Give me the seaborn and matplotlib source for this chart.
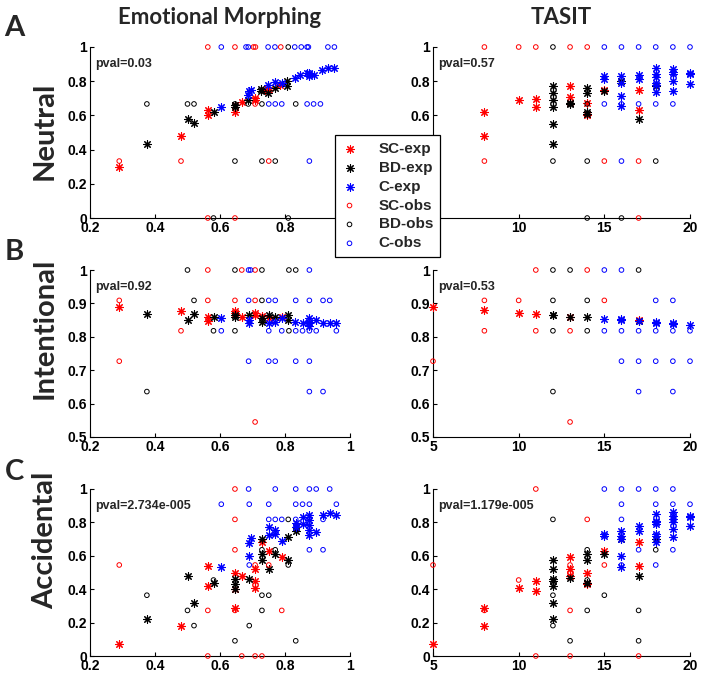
import matplotlib
matplotlib.use('Agg')
import matplotlib.pyplot as plt
import seaborn as sns

# ---- Emotional Morphing / Neutral ----
em_neu_sc_exp = [(0.29, 0.30), (0.48, 0.48), (0.5625, 0.63), (0.5625, 0.60), (0.646, 0.62), (0.646, 0.66),
                 (0.667, 0.68), (0.708, 0.70), (0.708, 0.69), (0.738, 0.75), (0.75, 0.75), (0.785, 0.78)]
em_neu_bd_exp = [(0.375, 0.43), (0.50, 0.58), (0.52, 0.555), (0.58, 0.62), (0.645, 0.66), (0.645, 0.65),
                 (0.685, 0.69), (0.725, 0.755), (0.725, 0.74), (0.748, 0.73), (0.77, 0.76), (0.805, 0.80),
                 (0.805, 0.77)]
em_neu_c_exp = [(0.604, 0.65), (0.687, 0.72), (0.69, 0.74), (0.695, 0.75), (0.748, 0.78), (0.77, 0.795),
                (0.79, 0.79), (0.83, 0.82), (0.845, 0.835), (0.867, 0.85), (0.875, 0.84), (0.875, 0.83),
                (0.875, 0.85), (0.89, 0.835), (0.915, 0.865), (0.932, 0.875), (0.952, 0.88)]
em_neu_sc_obs = [(0.5625, 1), (0.646, 1), (0.703, 1), (0.709, 1), (0.787, 1), (0.708, 0.667), (0.29, 0.333),
                 (0.48, 0.333), (0.75, 0.333), (0.5625, 0), (0.646, 0)]
em_neu_bd_obs = [(0.81, 1), (0.375, 0.667), (0.50, 0.667), (0.52, 0.667), (0.646, 0.667), (0.687, 0.667),
                 (0.729, 0.667), (0.833, 0.667), (0.646, 0.333), (0.729, 0.333), (0.77, 0.333), (0.58, 0),
                 (0.81, 0)]
em_neu_c_obs = [(0.604, 1), (0.68, 1), (0.687, 1), (0.748, 1), (0.769, 1), (0.83, 1), (0.85, 1), (0.868, 1),
                (0.872, 1), (0.932, 1), (0.952, 1), (0.75, 0.667), (0.77, 0.667), (0.79, 0.667),
                (0.868, 0.667), (0.888, 0.667), (0.909, 0.667), (0.875, 0.333)]

# ---- TASIT / Neutral ----
ta_neu_sc_exp = [(8, 0.62), (8, 0.48), (10, 0.69), (11, 0.695), (11, 0.65), (13, 0.77), (13, 0.71), (13, 0.67),
                 (14, 0.67), (14, 0.61), (14, 0.605), (15, 0.75), (17, 0.75), (17, 0.63)]
ta_neu_bd_exp = [(12, 0.77), (12, 0.73), (12, 0.69), (12, 0.65), (12, 0.55), (12, 0.43), (13, 0.665),
                 (13, 0.67), (14, 0.76), (14, 0.73), (14, 0.62), (14, 0.61), (15, 0.74), (16, 0.80),
                 (17, 0.58), (18, 0.77)]
ta_neu_c_exp = [(15, 0.83), (15, 0.815), (16, 0.83), (16, 0.79), (16, 0.715), (16, 0.655), (17, 0.835),
                (17, 0.81), (18, 0.88), (18, 0.845), (18, 0.825), (18, 0.79), (18, 0.775), (18, 0.735),
                (19, 0.87), (19, 0.855), (19, 0.84), (19, 0.80), (19, 0.74), (20, 0.85), (20, 0.84),
                (20, 0.785)]
ta_neu_sc_obs = [(8, 1), (10, 1), (11, 1), (13, 1), (14, 1), (8, 0.333), (15, 0.333), (17, 0.333), (17, 0)]
ta_neu_bd_obs = [(12, 1), (13, 0.667), (14, 0.667), (12, 0.333), (14, 0.333), (18, 0.333), (14, 0), (16, 0)]
ta_neu_c_obs = [(15, 1), (16, 1), (17, 1), (18, 1), (19, 1), (20, 1), (15, 0.667), (16, 0.667), (17, 0.667),
                (18, 0.667), (19, 0.667), (16, 0.333)]

# ---- Emotional Morphing / Intentional ----
em_int_sc_exp = [(0.29, 0.89), (0.48, 0.878), (0.5625, 0.86), (0.5625, 0.848), (0.646, 0.878), (0.646, 0.87),
                 (0.667, 0.86), (0.708, 0.872), (0.708, 0.866), (0.729, 0.862), (0.75, 0.855), (0.79, 0.858)]
em_int_bd_exp = [(0.375, 0.867), (0.50, 0.85), (0.52, 0.867), (0.58, 0.86), (0.646, 0.865), (0.646, 0.86),
                 (0.69, 0.865), (0.729, 0.855), (0.729, 0.845), (0.75, 0.865), (0.77, 0.86), (0.81, 0.865),
                 (0.81, 0.85)]
em_int_c_exp = [(0.604, 0.855), (0.69, 0.85), (0.69, 0.84), (0.75, 0.84), (0.77, 0.843), (0.79, 0.855),
                (0.83, 0.845), (0.854, 0.84), (0.875, 0.855), (0.875, 0.845), (0.875, 0.84), (0.875, 0.833),
                (0.896, 0.85), (0.917, 0.84), (0.9375, 0.84), (0.958, 0.84)]
em_int_sc_obs = [(0.5625, 1), (0.667, 1), (0.708, 1), (0.29, 0.909), (0.5625, 0.909), (0.646, 0.909),
                 (0.708, 0.909), (0.48, 0.818), (0.29, 0.727), (0.708, 0.545)]
em_int_bd_obs = [(0.50, 1), (0.646, 1), (0.729, 1), (0.812, 1), (0.833, 1), (0.52, 0.909), (0.729, 0.909),
                 (0.58, 0.818), (0.646, 0.818), (0.812, 0.818), (0.375, 0.636)]
em_int_c_obs = [(0.688, 1), (0.694, 1), (0.875, 1), (0.688, 0.909), (0.75, 0.909), (0.77, 0.909),
                (0.833, 0.909), (0.875, 0.909), (0.917, 0.909), (0.9375, 0.909), (0.604, 0.818),
                (0.75, 0.818), (0.79, 0.818), (0.833, 0.818), (0.854, 0.818), (0.875, 0.818), (0.896, 0.818),
                (0.958, 0.818), (0.688, 0.727), (0.75, 0.727), (0.77, 0.727), (0.833, 0.727), (0.875, 0.727),
                (0.875, 0.636), (0.917, 0.636)]

# ---- TASIT / Intentional ----
ta_int_sc_exp = [(5, 0.89), (8, 0.88), (10, 0.87), (11, 0.868), (13, 0.86), (17, 0.85)]
ta_int_bd_exp = [(12, 0.866), (12, 0.864), (13, 0.86), (14, 0.858), (17, 0.848)]
ta_int_c_exp = [(15, 0.853), (16, 0.852), (16, 0.849), (17, 0.847), (18, 0.845), (18, 0.841), (19, 0.84),
                (19, 0.838), (20, 0.836)]
ta_int_sc_obs = [(11, 1), (14, 1), (8, 0.909), (10, 0.909), (15, 0.909), (8, 0.818), (11, 0.818), (13, 0.818),
                 (5, 0.727), (13, 0.545)]
ta_int_bd_obs = [(12, 1), (13, 1), (17, 1), (12, 0.909), (14, 0.909), (12, 0.818), (14, 0.818), (12, 0.636)]
ta_int_c_obs = [(15, 1), (16, 1), (18, 0.909), (19, 0.909), (15, 0.818), (16, 0.818), (17, 0.818), (18, 0.818),
                (19, 0.818), (20, 0.818), (16, 0.727), (17, 0.727), (18, 0.727), (19, 0.727), (20, 0.727),
                (17, 0.636), (19, 0.636)]

# ---- Emotional Morphing / Accidental ----
em_acc_sc_exp = [(0.29, 0.07), (0.48, 0.18), (0.5625, 0.54), (0.5625, 0.42), (0.646, 0.50), (0.646, 0.40),
                 (0.646, 0.29), (0.667, 0.48), (0.708, 0.52), (0.708, 0.45), (0.708, 0.41), (0.729, 0.68),
                 (0.75, 0.63), (0.79, 0.59)]
em_acc_bd_exp = [(0.375, 0.22), (0.50, 0.48), (0.52, 0.32), (0.58, 0.44), (0.646, 0.46), (0.646, 0.43),
                 (0.646, 0.40), (0.69, 0.46), (0.729, 0.70), (0.729, 0.61), (0.729, 0.575), (0.75, 0.52),
                 (0.77, 0.61), (0.81, 0.71), (0.81, 0.575), (0.833, 0.75), (0.833, 0.77)]
em_acc_c_exp = [(0.604, 0.53), (0.688, 0.60), (0.69, 0.675), (0.694, 0.705), (0.75, 0.725), (0.75, 0.775),
                (0.77, 0.755), (0.77, 0.73), (0.79, 0.69), (0.833, 0.795), (0.833, 0.775), (0.854, 0.79),
                (0.854, 0.83), (0.875, 0.845), (0.875, 0.815), (0.875, 0.785), (0.875, 0.755), (0.875, 0.725),
                (0.896, 0.74), (0.917, 0.845), (0.9375, 0.855), (0.958, 0.845)]
em_acc_sc_obs = [(0.646, 1), (0.646, 0.818), (0.646, 0.636), (0.29, 0.545), (0.708, 0.545), (0.75, 0.545),
                 (0.5625, 0.273), (0.646, 0.273), (0.79, 0.273), (0.5625, 0), (0.667, 0), (0.708, 0),
                 (0.729, 0)]
em_acc_bd_obs = [(0.81, 0.818), (0.729, 0.636), (0.77, 0.636), (0.81, 0.545), (0.58, 0.455), (0.375, 0.364),
                 (0.729, 0.364), (0.75, 0.364), (0.50, 0.273), (0.729, 0.273), (0.52, 0.182), (0.69, 0.182),
                 (0.646, 0.091), (0.833, 0.091)]
em_acc_c_obs = [(0.688, 1), (0.77, 1), (0.833, 1), (0.875, 1), (0.896, 1), (0.9375, 1), (0.604, 0.909),
                (0.69, 0.909), (0.75, 0.909), (0.833, 0.909), (0.854, 0.909), (0.875, 0.909), (0.958, 0.909),
                (0.75, 0.818), (0.77, 0.818), (0.79, 0.818), (0.833, 0.818), (0.875, 0.818), (0.917, 0.818),
                (0.875, 0.636), (0.917, 0.636), (0.69, 0.545)]

# ---- TASIT / Accidental ----
ta_acc_sc_exp = [(5, 0.07), (8, 0.29), (8, 0.18), (10, 0.41), (11, 0.45), (11, 0.39), (13, 0.59), (13, 0.52),
                 (13, 0.48), (14, 0.50), (14, 0.44), (14, 0.43), (15, 0.63), (17, 0.68), (17, 0.54)]
ta_acc_bd_exp = [(12, 0.575), (12, 0.52), (12, 0.46), (12, 0.45), (12, 0.42), (12, 0.32), (12, 0.22),
                 (13, 0.47), (14, 0.61), (14, 0.575), (14, 0.44), (14, 0.435), (15, 0.61), (16, 0.70),
                 (17, 0.48), (18, 0.70)]
ta_acc_c_exp = [(15, 0.73), (15, 0.72), (16, 0.75), (16, 0.72), (16, 0.70), (16, 0.60), (16, 0.53), (17, 0.78),
                (17, 0.75), (18, 0.85), (18, 0.81), (18, 0.80), (18, 0.79), (18, 0.73), (18, 0.72), (18, 0.68),
                (19, 0.86), (19, 0.84), (19, 0.82), (19, 0.80), (19, 0.76), (19, 0.71), (20, 0.84),
                (20, 0.83), (20, 0.78)]
ta_acc_sc_obs = [(11, 1), (14, 0.818), (5, 0.545), (13, 0.545), (15, 0.545), (10, 0.455), (13, 0.5),
                 (8, 0.273), (13, 0.273), (11, 0), (13, 0), (17, 0)]
ta_acc_bd_obs = [(12, 0.818), (14, 0.636), (18, 0.636), (14, 0.455), (12, 0.364), (15, 0.364), (14, 0.273),
                 (17, 0.273), (12, 0.182), (13, 0.091), (17, 0.091)]
ta_acc_c_obs = [(15, 1), (16, 1), (17, 1), (18, 1), (19, 1), (16, 0.909), (18, 0.909), (19, 0.909), (20, 0.909),
                (16, 0.818), (17, 0.636), (19, 0.636), (18, 0.545), (16, 0.545)]

pvals = ['pval=0.03', 'pval=0.57', 'pval=0.92', 'pval=0.53', 'pval=2.734e-005', 'pval=1.179e-005']
row_names = ['Neutral', 'Intentional', 'Accidental']
col_names = ['Emotional Morphing', 'TASIT']
series_names = ['SC-exp', 'BD-exp', 'C-exp', 'SC-obs', 'BD-obs', 'C-obs']
series_colors = ['red', 'black', 'blue']

panels = [
    [em_neu_sc_exp, em_neu_bd_exp, em_neu_c_exp, em_neu_sc_obs, em_neu_bd_obs, em_neu_c_obs],
    [ta_neu_sc_exp, ta_neu_bd_exp, ta_neu_c_exp, ta_neu_sc_obs, ta_neu_bd_obs, ta_neu_c_obs],
    [em_int_sc_exp, em_int_bd_exp, em_int_c_exp, em_int_sc_obs, em_int_bd_obs, em_int_c_obs],
    [ta_int_sc_exp, ta_int_bd_exp, ta_int_c_exp, ta_int_sc_obs, ta_int_bd_obs, ta_int_c_obs],
    [em_acc_sc_exp, em_acc_bd_exp, em_acc_c_exp, em_acc_sc_obs, em_acc_bd_obs, em_acc_c_obs],
    [ta_acc_sc_exp, ta_acc_bd_exp, ta_acc_c_exp, ta_acc_sc_obs, ta_acc_bd_obs, ta_acc_c_obs],
]

sns.set_style('white')
plt.rcParams['font.family'] = ['Liberation Sans', 'DejaVu Sans']
plt.rcParams['font.weight'] = 'bold'

W, H = 704, 676
fig = plt.figure(figsize=(W / 100, H / 100), dpi=100)

# axes boxes in pixels: (left, right), (top, bottom)
col_px = [(90, 350), (433, 690)]
row_px = [(47, 218), (270, 437), (489, 656)]
ylims = [(0, 1), (0.5, 1), (0, 1)]
yticks = [[0, 0.2, 0.4, 0.6, 0.8, 1], [0.5, 0.6, 0.7, 0.8, 0.9, 1], [0, 0.2, 0.4, 0.6, 0.8, 1]]
xlims = [(0.2, 1), (5, 20)]
xticks = [[0.2, 0.4, 0.6, 0.8, 1], [5, 10, 15, 20]]

title_font = ['Lato', 'DejaVu Sans']
handles = None
for r in range(3):
    for c in range(2):
        (x0, x1), (y0, y1) = col_px[c], row_px[r]
        ax = fig.add_axes([x0 / W, 1 - y1 / H, (x1 - x0) / W, (y1 - y0) / H])
        data = panels[r * 2 + c]
        for i, pts in enumerate(data):
            xs = [p[0] for p in pts]
            ys = [p[1] for p in pts]
            col = series_colors[i % 3]
            if i < 3:
                sns.scatterplot(x=xs, y=ys, ax=ax, marker=(8, 2, 0), s=30, color=col,
                                linewidth=0.8, label=series_names[i], legend=False, zorder=3)
            else:
                sns.scatterplot(x=xs, y=ys, ax=ax, marker='o', s=11, facecolor='none',
                                edgecolor=col, linewidth=0.7, label=series_names[i], legend=False,
                                zorder=3)
        ax.set_xlim(*xlims[c])
        ax.set_ylim(*ylims[r])
        ax.set_xticks(xticks[c])
        ax.set_yticks(yticks[r])
        ax.set_xticklabels(['%g' % v for v in xticks[c]])
        ax.set_yticklabels(['%g' % v for v in yticks[r]])
        ax.tick_params(direction='in', length=3, width=0.8, pad=2, labelsize=10,
                       bottom=True, left=True, colors='black')
        for sp in ['top', 'right']:
            ax.spines[sp].set_visible(False)
        for sp in ['left', 'bottom']:
            ax.spines[sp].set_color('black')
            ax.spines[sp].set_linewidth(0.8)
        for coll in ax.collections:
            coll.set_clip_on(False)
        ax.text(0.02, 0.9, pvals[r * 2 + c], transform=ax.transAxes, fontsize=9,
                fontweight='bold', va='center', ha='left')
        if c == 0:
            ylab_y = [0.51, 0.65, 0.69][r]
            ax.set_ylabel(row_names[r], fontsize=21, fontweight='bold', family=title_font,
                          va='center')
            ax.yaxis.set_label_coords(-0.173, ylab_y)
        if r == 0:
            ax.text(0.5, 1.17, col_names[c], transform=ax.transAxes, fontsize=16,
                    fontweight='bold', family=title_font, ha='center', va='center')
        if r == 0 and c == 0:
            handles, labels = ax.get_legend_handles_labels()

for letter, ypx in zip(['A', 'B', 'C'], [28, 252, 472]):
    fig.text(14 / W, 1 - ypx / H, letter, fontsize=21, fontweight='bold', family=title_font,
             ha='center', va='center')

leg = fig.legend(handles, labels, loc='upper left', bbox_to_anchor=(335 / W, 1 - 135 / H),
                 frameon=True, fancybox=False, framealpha=1, edgecolor='black',
                 prop={'weight': 'bold', 'size': 11}, handlelength=1.0, handletextpad=1.4,
                 borderpad=0.45, labelspacing=0.32, borderaxespad=0)
leg.get_frame().set_linewidth(0.9)

fig.savefig('out.png', dpi=100)
